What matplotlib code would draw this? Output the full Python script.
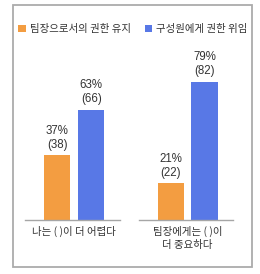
import matplotlib
matplotlib.use("Agg")
import matplotlib.pyplot as plt
from matplotlib.patches import Rectangle, Patch

plt.rcParams['font.family'] = ['Noto Sans CJK KR', 'DejaVu Sans']

categories = ["나는 ( )이 더 어렵다", "팀장에게는 ( )이\n더 중요하다"]
series_names = ["팀장으로서의 권한 유지", "구성원에게 권한 위임"]
pct_keep = [37, 21]
cnt_keep = [38, 22]
pct_delegate = [63, 79]
cnt_delegate = [66, 82]

orange = "#F39D41"
blue = "#5878E6"
text_c = "#333333"

W, H = 260, 274
fig = plt.figure(figsize=(W / 100, H / 100), dpi=100)

# outer border
fig.patches.append(Rectangle((13 / W, 1 - 267 / H), (252 - 13) / W, (267 - 5) / H,
                             transform=fig.transFigure, fill=False,
                             edgecolor="#ABABAB", linewidth=1.3))

bottom = (H - 220) / H
top_px = 50
height = (220 - top_px) / H
axes_specs = [(25 / W, 95 / W), (139 / W, 94 / W)]

for i, (left, width) in enumerate(axes_specs):
    ax = fig.add_axes([left, bottom, width, height])
    vals = [pct_keep[i], pct_delegate[i]]
    cnts = [cnt_keep[i], cnt_delegate[i]]
    xs = [-0.5, 0.5]
    bars = ax.bar(xs, vals, width=0.78, color=[orange, blue])
    for b, v, c in zip(bars, vals, cnts):
        ax.annotate(f"{v}%\n({c})", (b.get_x() + b.get_width() / 2, v),
                    xytext=(0, 3), textcoords="offset points",
                    ha="center", va="bottom", fontsize=8.3, color=text_c,
                    linespacing=1.25, family=['Liberation Sans', 'DejaVu Sans'])
    ax.set_xlim(-1.45, 1.35)
    ax.set_ylim(0, 97)
    ax.set_xticks([0])
    ax.set_xticklabels([categories[i]], fontsize=7.5, color=text_c, linespacing=1.4)
    ax.tick_params(axis="x", length=0, pad=4)
    ax.set_yticks([])
    for s in ["top", "right", "left"]:
        ax.spines[s].set_visible(False)
    ax.spines["bottom"].set_color("#A6A6A6")
    ax.spines["bottom"].set_linewidth(1.0)

handles = [Patch(facecolor=orange), Patch(facecolor=blue)]
fig.legend(handles, series_names, loc="center left", bbox_to_anchor=(18 / W, 1 - 29 / H),
           ncol=2, frameon=False, fontsize=7.5, handlelength=0.75, handleheight=0.75,
           handletextpad=0.4, columnspacing=1.3, borderaxespad=0, borderpad=0,
           labelcolor=text_c)

fig.savefig("out.png", dpi=100)
